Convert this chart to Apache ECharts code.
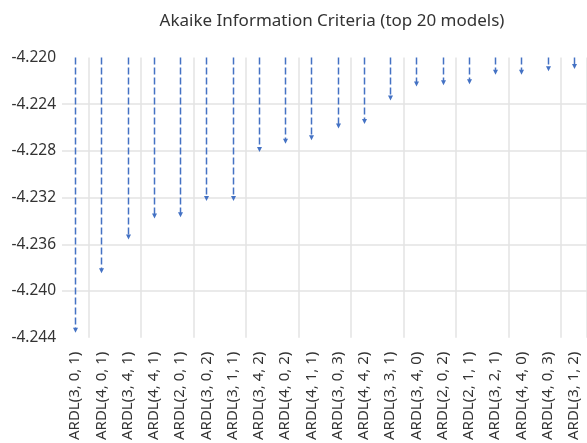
<!DOCTYPE html>
<html>
<head>
<meta charset="utf-8">
<script src="https://cdn.jsdelivr.net/npm/echarts@6/dist/echarts.min.js"></script>
<style>
  html, body { margin: 0; padding: 0; background: #fff; }
  #chart { width: 587px; height: 443px; }
</style>
</head>
<body>
<div id="chart"></div>
<script>
const models = [
  'ARDL(3, 0, 1)', 'ARDL(4, 0, 1)', 'ARDL(3, 4, 1)', 'ARDL(4, 4, 1)', 'ARDL(2, 0, 1)',
  'ARDL(3, 0, 2)', 'ARDL(3, 1, 1)', 'ARDL(3, 4, 2)', 'ARDL(4, 0, 2)', 'ARDL(4, 1, 1)',
  'ARDL(3, 0, 3)', 'ARDL(4, 4, 2)', 'ARDL(3, 3, 1)', 'ARDL(3, 4, 0)', 'ARDL(2, 0, 2)',
  'ARDL(2, 1, 1)', 'ARDL(3, 2, 1)', 'ARDL(4, 4, 0)', 'ARDL(4, 0, 3)', 'ARDL(3, 1, 2)'
]
const aic = [
  -4.2435, -4.2384, -4.2355, -4.2337, -4.2336,
  -4.2322, -4.2322, -4.2280, -4.2273, -4.2270,
  -4.2260, -4.2256, -4.2236, -4.2224, -4.2223,
  -4.2222, -4.2214, -4.2214, -4.2211, -4.2209
]
const yMin = -4.244
const yMax = -4.220
const yStep = 0.004

const blue = '#4472C4'
const chart = echarts.init(document.getElementById('chart'))

chart.setOption({
  animation: false,
  title: {
    text: 'Akaike Information Criteria (top 20 models)',
    left: 327,
    top: 8,
    textAlign: 'center',
    textStyle: { fontFamily: 'Noto Sans', fontSize: 17, fontWeight: 'normal', color: '#333' }
  },
  grid: { left: 62, right: -5, top: 57.5, bottom: 105 },
  xAxis: {
    type: 'category',
    data: models,
    axisLine: { show: false },
    axisTick: { show: false },
    axisLabel: {
      rotate: 90,
      interval: 0,
      margin: 14,
      fontFamily: 'Noto Sans',
      fontSize: 15,
      color: '#333'
    },
    splitLine: {
      show: true,
      interval: (i) => i % 2 === 1,
      lineStyle: { color: '#e3e3e3', width: 1.5 }
    }
  },
  yAxis: {
    type: 'value',
    min: yMin,
    max: yMax,
    interval: yStep,
    axisLine: { show: false },
    axisTick: { show: false },
    axisLabel: {
      margin: 6,
      fontFamily: 'Noto Sans',
      fontSize: 15.5,
      color: '#333',
      formatter: (v) => v.toFixed(3)
    },
    splitLine: {
      show: true,
      showMinLine: false,
      showMaxLine: false,
      lineStyle: { color: '#e3e3e3', width: 1.5 }
    }
  },
  series: [{
    type: 'custom',
    clip: false,
    data: aic.map((v, i) => [i, v]),
    renderItem: (params, api) => {
      const top = api.coord([api.value(0), yMax])
      const tip = api.coord([api.value(0), api.value(1)])
      const x = Math.round(tip[0]) + 0.5
      return {
        type: 'group',
        children: [
          {
            type: 'line',
            shape: { x1: x, y1: top[1], x2: x, y2: tip[1] - 3 },
            style: { stroke: blue, lineWidth: 1.5, lineDash: [7, 3] }
          },
          {
            type: 'polygon',
            shape: { points: [[x - 2.5, tip[1] - 4], [x + 2.5, tip[1] - 4], [x, tip[1] + 1]] },
            style: { fill: blue }
          }
        ]
      }
    }
  }]
})
</script>
</body>
</html>
